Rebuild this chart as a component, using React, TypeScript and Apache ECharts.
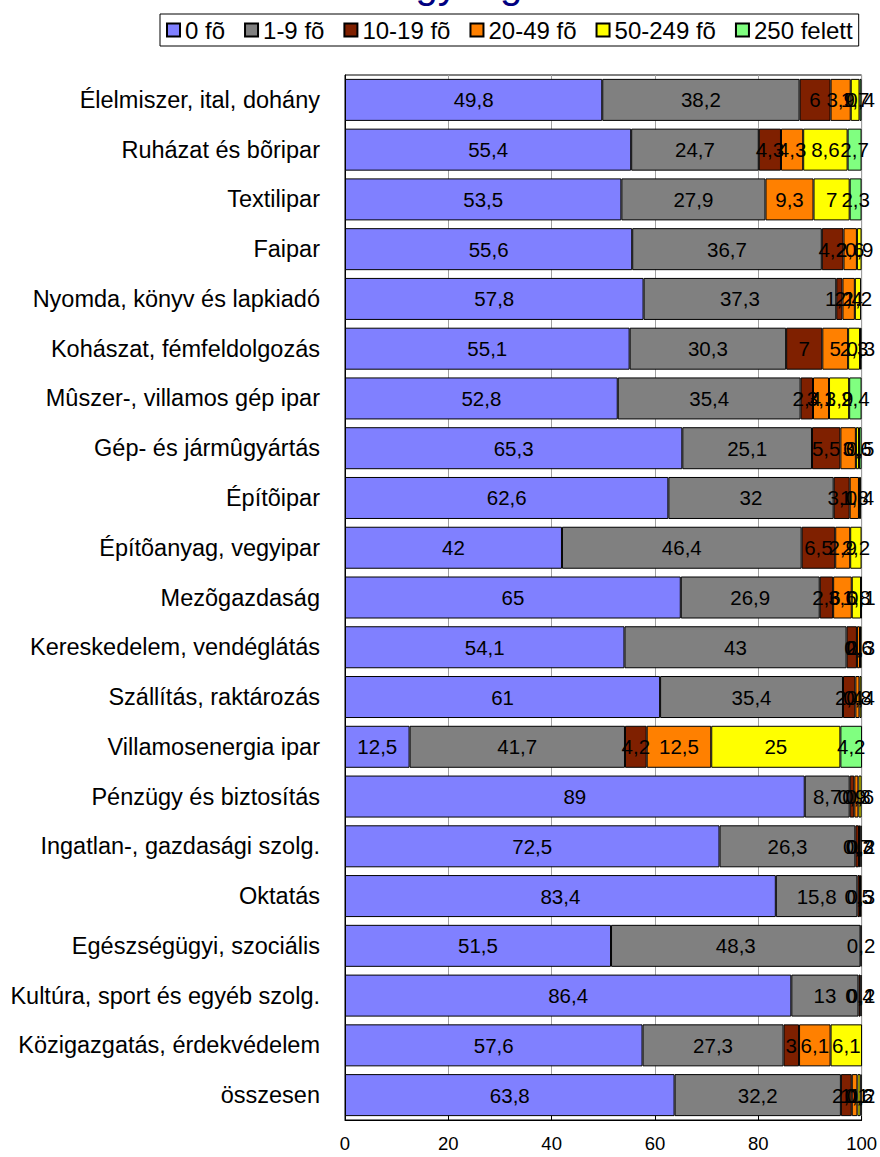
import React, { useEffect, useRef } from "react";
import * as echarts from "echarts";

const FONT = "'Liberation Sans', Arial, sans-serif";

const categories = [
  "Élelmiszer, ital, dohány",
  "Ruházat és bõripar",
  "Textilipar",
  "Faipar",
  "Nyomda, könyv és lapkiadó",
  "Kohászat, fémfeldolgozás",
  "Mûszer-, villamos gép ipar",
  "Gép- és jármûgyártás",
  "Építõipar",
  "Építõanyag, vegyipar",
  "Mezõgazdaság",
  "Kereskedelem, vendéglátás",
  "Szállítás, raktározás",
  "Villamosenergia ipar",
  "Pénzügy és biztosítás",
  "Ingatlan-, gazdasági szolg.",
  "Oktatás",
  "Egészségügyi, szociális",
  "Kultúra, sport és egyéb szolg.",
  "Közigazgatás, érdekvédelem",
  "összesen",
];

const seriesNames = ["0 fõ", "1-9 fõ", "10-19 fõ", "20-49 fõ", "50-249 fõ", "250 felett"];
const seriesColors = ["#8080FF", "#808080", "#7F2000", "#FF8000", "#FFFF00", "#80FF80"];

const s0 = [49.8, 55.4, 53.5, 55.6, 57.8, 55.1, 52.8, 65.3, 62.6, 42, 65, 54.1, 61, 12.5, 89, 72.5, 83.4, 51.5, 86.4, 57.6, 63.8];
const s1 = [38.2, 24.7, 27.9, 36.7, 37.3, 30.3, 35.4, 25.1, 32, 46.4, 26.9, 43, 35.4, 41.7, 8.7, 26.3, 15.8, 48.3, 13, 27.3, 32.2];
const s2 = [6, 4.3, null, 4.2, 1.2, 7, 2.4, 5.5, 3.1, 6.5, 2.6, 2, 2.4, 4.2, 0.9, 0.7, 0.5, 0.2, 0.4, 3, 2.1];
const s3 = [3.9, 4.3, 9.3, 2.6, 2.4, 5, 3.1, 3, 1.8, 2.9, 3.6, 0.6, 0.8, 12.5, 0.8, 0.3, 0.3, null, 0.2, 6.1, 1.1];
const s4 = [1.7, 8.6, 7, 0.9, 1.2, 2.3, 3.9, 0.6, 0.4, 2.2, 1.8, 0.3, 0.4, 25, 0.6, 0.2, null, null, null, 6.1, 0.6];
const s5 = [0.4, 2.7, 2.3, null, null, 0.3, 2.4, 0.5, null, null, 0.1, null, null, 4.2, null, null, null, null, null, null, 0.2];

const xTicks = [0, 20, 40, 60, 80, 100];
const titleFragment = "nagyság";

export default function App() {
  const ref = useRef<HTMLDivElement>(null);

  useEffect(() => {
    const chart = echarts.init(ref.current as HTMLDivElement, null, { renderer: "svg" });
    const all = [s0, s1, s2, s3, s4, s5];
    const fmt = (p: any) => (p.value == null ? "" : String(p.value).replace(".", ","));
    const series = all.map((data, i) => ({
      name: seriesNames[i],
      type: "bar",
      stack: "total",
      data,
      barWidth: 42,
      itemStyle: { color: seriesColors[i], borderColor: "#000", borderWidth: 1 },
      label: {
        show: true,
        position: "inside",
        formatter: fmt,
        color: "#000",
        fontSize: 20.5,
        fontFamily: FONT,
        textBorderWidth: 0,
      },
      emphasis: { disabled: true },
    }));

    chart.setOption({
      animation: false,
      textStyle: { fontFamily: FONT },
      graphic: [
        {
          type: "text",
          x: 371,
          y: -16,
          style: {
            text: titleFragment,
            fontSize: 40,
            fill: "#000080",
            fontFamily: FONT,
            align: "left",
            verticalAlign: "middle",
          },
        },
      ],
      legend: {
        left: 160,
        top: 14,
        data: seriesNames,
        icon: "rect",
        itemWidth: 13,
        itemHeight: 13,
        itemGap: 19,
        padding: [4, 6],
        borderColor: "#000",
        borderWidth: 1,
        backgroundColor: "#fff",
        textStyle: { fontSize: 24, color: "#000", fontFamily: FONT },
      },
      grid: { left: 345, right: 18, top: 75, bottom: 37, show: true, borderColor: "#000", borderWidth: 1, containLabel: false },
      xAxis: {
        type: "value",
        min: xTicks[0],
        max: xTicks[xTicks.length - 1],
        interval: 20,
        axisLine: { show: true, lineStyle: { color: "#000" } },
        axisTick: { show: true, inside: true, length: 4, lineStyle: { color: "#000" } },
        axisLabel: { fontSize: 18.5, color: "#000", margin: 14, fontFamily: FONT },
        splitLine: { show: true, lineStyle: { color: "#a0a0a0", width: 1 } },
      },
      yAxis: {
        type: "category",
        inverse: true,
        data: categories,
        axisLine: { show: true, lineStyle: { color: "#000" } },
        axisTick: { show: false },
        axisLabel: { fontSize: 23.5, color: "#000", margin: 25, fontFamily: FONT },
      },
      series,
    });
    return () => chart.dispose();
  }, []);

  return <div ref={ref} style={{ position: "absolute", left: 0, top: 0, width: 880, height: 1157 }} />;
}
